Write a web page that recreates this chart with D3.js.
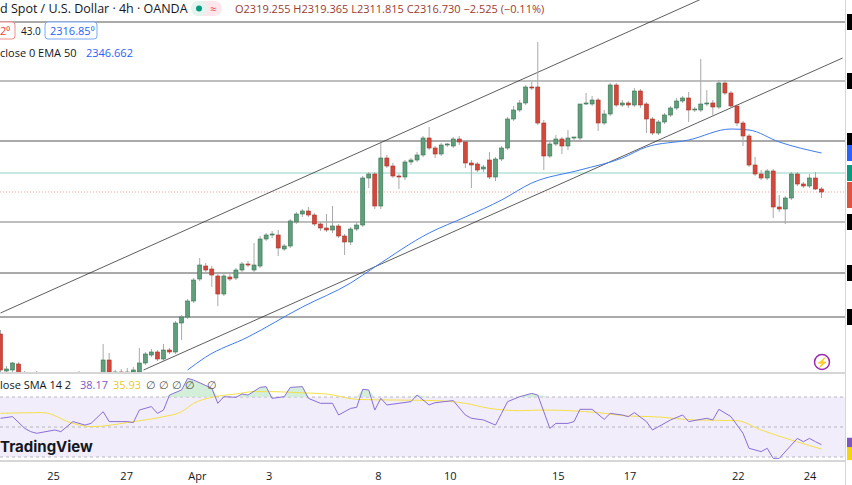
<!DOCTYPE html>
<html>
<head>
<meta charset="utf-8">
<script src="https://cdn.jsdelivr.net/npm/d3@7"></script>
<style>
  body { margin: 0; background: #fff; font-family: "Open Sans", "Noto Sans", sans-serif; }
  svg { display: block; }
</style>
</head>
<body>
<svg id="chart" width="852" height="485"></svg>
<script>
// 4h candles, oldest first
const opens = [2253,2234.5,2235,2238,2232,2230,2227.5,2231,2229,2225,2227,2230,2228,2226,2228.5,2231,2232,
  2231.5,2240,2233,2234,2233.5,2234,2234,2238.5,2242.5,2244,2240.5,2245,2244,2258.5,2261.5,2269.5,2280.5,2287,2285.5,2282,2273,2281.5,2281,2285,2288,2285,2287,2300.5,2302.5,2302.5,2295.5,2297,2309,2313,2314.5,2312.5,2308,2306,2305,2307,2302,2299,2305.5,2307.5,2331,2333,2317,2341,2337,2332,2331.5,2339,2340,2342.5,2351,
  2346,2343,2347.5,2347,2350.5,2349,2338.5,2338,2335.5,2340,2331.5,2340.5,2346,2360.5,2365,2368.5,2376.5,2376.5,2358.5,2342,2348,2350.5,2347,2351,2351,2368,2368,2370,2358.5,2363,2377.5,2367.5,2368.5,2367.5,2374.5,2368,2360.5,2353.5,2359,2362.5,2366,2369.5,2371,2365,2365,2368,2368.5,2366.5,2378.5,2373.5,2367,2358.5,2352,2337.5,2333,2331,2334.5,2316.5,2315.5,2321,2333,2328,2327,2331,2325.5];
const highs = [2255,2237,2239,2239,2234.5,2232.5,2234.5,2232,2230,2228.5,2231,2231,2229,2234.5,2232,2233,2233.5,
  2248,2243.5,2235,2235.5,2236,2236.5,2246,2244,2245.5,2245,2248,2246,2259.5,2262.5,2270.5,2281,2291,2288.5,2287,2284,2283.5,2283,2286,2289,2289.5,2298.5,2302,2303.5,2304.5,2305,2298,2310.5,2314,2315.5,2316.5,2313.5,2309,2313,2317,2308,2303,2306.5,2309,2332,2334,2334,2348.5,2342.5,2338.5,2333,2340,2341,2344,2352,2356.5,
  2347,2348.5,2348.5,2351.5,2352,2350,2340,2339,2337.5,2344,2341.5,2347,2361.5,2367,2370,2377.5,2379,2399,2360,2350,2352.5,2351.5,2355,2351.5,2368,2373.5,2372,2371,2365,2378.5,2378.5,2370,2369.5,2376,2375.5,2369,2361.5,2360,2363.5,2367,2371,2372,2374,2366.5,2390.5,2375,2370,2380,2380,2374.5,2368,2359.5,2353,2341.5,2335,2335.5,2335.5,2322.5,2322,2334,2334,2329,2333,2334,2326.5];
const lows = [2232,2233,2234,2230,2228,2226,2226.5,2227,2223,2224,2226,2225.5,2224,2225,2227.5,2229.5,2230,
  2230.5,2233,2231.5,2231.5,2232.5,2233,2233,2237.5,2241.5,2239.5,2239.5,2243,2243,2250,2260.5,2268.5,2279.5,2284,2276.5,2267,2272,2279.5,2280,2284,2286.5,2284,2286,2299.5,2301,2292,2294.5,2296,2308,2311.5,2311.5,2307,2304.5,2304,2303.5,2301,2292.5,2297.5,2304.5,2306.5,2326,2315.5,2315.5,2336,2331,2325.5,2330,2337.5,2339,2341.5,2345,
  2341,2342,2346.5,2346,2347.5,2336,2326,2334,2334,2330.5,2329.5,2339.5,2345,2359.5,2364,2367.5,2375,2357.5,2335,2341,2347,2343,2345,2350,2350,2367.5,2367,2354.5,2357.5,2362,2366.5,2366.5,2366,2366.5,2366,2353.5,2352.5,2352.5,2358,2361.5,2365,2368.5,2359,2364,2364,2367,2361.5,2365.5,2372.5,2366,2357,2347,2336.5,2332,2330,2330,2311,2314,2308,2320,2327,2326,2326,2325,2321];
const closes = [2235,2235.5,2238.5,2232,2230,2227.5,2231,2229,2225,2227,2230,2228,2226,2228.5,2231,2232,2231.5,
  2240,2234,2234,2233,2234,2235,2238.5,2243,2244,2240.5,2245,2244,2258.5,2261.5,2269.5,2280,2287.5,2285,2282.5,2273,2282,2280.5,2285,2288,2287.5,2287.5,2300.5,2302.5,2303,2296,2297,2309.5,2313,2314.5,2312.5,2308,2306,2305,2307,2302,2299,2305.5,2307.5,2331,2333,2317,2341,2337,2332,2331.5,2339,2340,2342.5,2351,2346,
  2343,2347.5,2348,2350.5,2349,2338.5,2337.5,2335,2336.5,2331.5,2340.5,2346,2360.5,2365,2368.5,2376.5,2376,2358.5,2342,2348,2350.5,2347,2351,2351.5,2368,2368.5,2370,2358.5,2363,2377.5,2367.5,2368.5,2367.5,2374.5,2367.5,2360.5,2353.5,2359,2362.5,2366,2369.5,2371,2365,2365.5,2368,2368.5,2366.5,2378.5,2373.5,2367,2358.5,2352,2337.5,2333,2331,2334.5,2316.5,2315.5,2321,2333,2328,2327,2331,2325.5,2324];

// EMA 50 read at selected candles
const emaIdx = [31,34,41,50,58,62,71,77,83,88,96,103,107,114,121,124,129,136];
const emaVal = [2235,2241.5,2251.5,2266.5,2278.5,2286.5,2303.5,2311.5,2320,2328.5,2335,2341,2346.5,2350,2355.5,2355,2349,2343.5];

// RSI 14 and its SMA, read at selected candles
const rsiIdx = [0,2,4,5,6,9,10,12,14,15,17,18,21,22,23,25,26,27,28,30,31,32,35,36,37,39,40,41,43,44,45,47,48,50,51,53,55,56,58,59,60,61,62,63,64,66,68,69,71,72,75,77,78,80,82,83,84,86,88,89,91,92,94,95,96,98,100,101,103,104,105,107,108,111,113,114,117,118,119,121,123,124,126,127,128,129,131,132,133,134,135,136];
const rsiVal = [55.8,56.9,49.1,46.9,45.8,48,46.9,53.6,51.3,52.4,60.2,53.6,53.6,52.9,61.3,63.6,59.1,61.3,71.3,74.7,82.4,81.3,75.8,65.8,70.2,69.8,72,71.3,76.4,76.9,69.1,70.2,76.4,76.9,69.1,65.8,65.8,58,62.4,63.1,75.1,74.7,61.3,69.1,64.7,65.8,66.9,71.3,64.7,66.2,67.6,58,55.8,54.7,51.3,59.1,66.9,70.2,72.4,71.3,49.1,52.4,52.4,53.6,61.8,61.8,55.1,59.1,58,56.9,59.6,53.6,48,54.7,58,53.6,55.8,54.7,61.8,56.9,45.8,35.8,33.6,35.8,29.1,29.1,38,42.4,40.2,42.4,40.2,38.2];
const smaIdx = [0,7,12,15,22,27,30,32,35,39,42,45,49,54,59,65,72,77,81,86,90,99,104,108,115,122,126,131,136];
const smaVal = [59.1,59.6,52.4,50.2,53.6,56.9,60.2,65.8,69.8,72,73.6,73.6,72.9,72,68.4,68,67.6,65.8,62.4,60.9,61.3,59.6,57.3,56.9,54.7,54.2,48,41.3,35.3];

// drawn levels and channel
const levels = [2409, 2379.5, 2349.5, 2309, 2283.5, 2261.5];
const thickLevels = [2379.5, 2309];
const upperChannel = [[0, 2263.5], [140, 2452.8]];
const lowerChannel = [[23.7, 2235], [139.5, 2391]];
const teal = 2333.5, lastPrice = 2324;

const tickIdx = [8.8, 20.9, 32.6, 44.5, 62.6, 74.5, 92.4, 104.3, 122.2, 134.1];
const tickLabels = ["25", "27", "Apr", "3", "8", "10", "15", "17", "22", "24"];

const svg = d3.select("#chart");
const W = 845, mainBottom = 372, rsiTop = 373, rsiBottom = 461;

const x = d3.scaleLinear().domain([0, 136]).range([0.5, 821.5]);
const y = d3.scaleLinear().domain([2420, 2234]).range([0, 372]);
const yr = d3.scaleLinear().domain([70, 30]).range([397, 457]);

svg.append("clipPath").attr("id", "mainClip").append("rect").attr("x", 0).attr("y", 0).attr("width", W).attr("height", mainBottom);
svg.append("clipPath").attr("id", "rsiClip").append("rect").attr("x", 0).attr("y", rsiTop).attr("width", W).attr("height", rsiBottom - rsiTop);

const main = svg.append("g").attr("clip-path", "url(#mainClip)");

// horizontal levels
main.selectAll("line.lvl").data(levels).join("line")
  .attr("x1", 0).attr("x2", W).attr("y1", d => y(d)).attr("y2", d => y(d))
  .attr("stroke", d => thickLevels.includes(d) ? "#a8a8a8" : "#555")
  .attr("stroke-width", d => thickLevels.includes(d) ? 1.6 : 1);
main.append("line").attr("x1", 0).attr("x2", W).attr("y1", y(teal)).attr("y2", y(teal)).attr("stroke", "#8fd3c4").attr("stroke-width", 1);
main.append("line").attr("x1", 0).attr("x2", W).attr("y1", y(lastPrice)).attr("y2", y(lastPrice))
  .attr("stroke", "#f2a49c").attr("stroke-dasharray", "1,2").attr("stroke-width", 1);

// channel
[upperChannel, lowerChannel].forEach(c => {
  main.append("line").attr("x1", x(c[0][0])).attr("y1", y(c[0][1])).attr("x2", x(c[1][0])).attr("y2", y(c[1][1]))
    .attr("stroke", "#333").attr("stroke-width", 0.8);
});

// EMA
main.append("path").datum(emaIdx.map((d, i) => [d, emaVal[i]]))
  .attr("fill", "none").attr("stroke", "#3f7cf2").attr("stroke-width", 1)
  .attr("d", d3.line().x(d => x(d[0])).y(d => y(d[1])).curve(d3.curveMonotoneX));

// candles
const candles = closes.map((c, i) => ({ i, o: opens[i], h: highs[i], l: lows[i], c }));
main.selectAll("line.wick").data(candles).join("line")
  .attr("x1", d => x(d.i)).attr("x2", d => x(d.i)).attr("y1", d => y(d.h)).attr("y2", d => y(d.l))
  .attr("stroke", "#a9a9a9").attr("stroke-width", 1);
main.selectAll("rect.body").data(candles).join("rect")
  .attr("x", d => x(d.i) - 2).attr("width", 4)
  .attr("y", d => y(Math.max(d.o, d.c)))
  .attr("height", d => Math.max(1, Math.abs(y(d.o) - y(d.c))))
  .attr("fill", d => d.c >= d.o ? "#5f9f7b" : "#d4483b")
  .attr("stroke", d => d.c >= d.o ? "#3b7453" : "#a7342a").attr("stroke-width", 0.6);

// header
const hdr = svg.append("g").attr("font-size", 12.5);
hdr.append("text").attr("x", 0).attr("y", 13).attr("fill", "#131722").text("d Spot / U.S. Dollar · 4h · OANDA");
hdr.append("rect").attr("x", 191).attr("y", 1).attr("width", 31).attr("height", 15).attr("rx", 7.5).attr("fill", "#fde7ec");
hdr.append("rect").attr("x", 191).attr("y", 1).attr("width", 16).attr("height", 15).attr("rx", 7.5).attr("fill", "#e3f4ef");
hdr.append("circle").attr("cx", 199).attr("cy", 8.5).attr("r", 3).attr("fill", "#089981");
hdr.append("text").attr("x", 210).attr("y", 13).attr("fill", "#f23645").attr("font-size", 11).text("≈");
hdr.append("text").attr("x", 235).attr("y", 13).attr("fill", "#9b3b30").attr("font-size", 11)
  .text("O2319.255 H2319.365 L2311.815 C2316.730 −2.525 (−0.11%)");
hdr.append("rect").attr("x", -4).attr("y", 22).attr("width", 19).attr("height", 17).attr("rx", 3).attr("fill", "#fff").attr("stroke", "#f28b8b");
hdr.append("text").attr("x", 0).attr("y", 35).attr("fill", "#f23645").attr("font-size", 11).text("2⁰");
hdr.append("text").attr("x", 21).attr("y", 35).attr("fill", "#131722").attr("font-size", 10).text("43.0");
hdr.append("rect").attr("x", 45).attr("y", 22).attr("width", 52).attr("height", 17).attr("rx", 3).attr("fill", "#fff").attr("stroke", "#7aa7f7");
hdr.append("text").attr("x", 50).attr("y", 35).attr("fill", "#2962ff").attr("font-size", 11).text("2316.85⁰");
hdr.append("text").attr("x", 0).attr("y", 57).attr("fill", "#131722").attr("font-size", 11).text("close 0 EMA 50");
hdr.append("text").attr("x", 86).attr("y", 57).attr("fill", "#2962ff").attr("font-size", 11).text("2346.662");

// lightning icon
svg.append("circle").attr("cx", 822).attr("cy", 362).attr("r", 7.5).attr("fill", "#fff").attr("stroke", "#9c27b0").attr("stroke-width", 1.5);
svg.append("text").attr("x", 822).attr("y", 366).attr("text-anchor", "middle").attr("font-size", 10).attr("fill", "#9c27b0").text("⚡");

// RSI pane
svg.append("line").attr("x1", 0).attr("x2", W).attr("y1", rsiTop).attr("y2", rsiTop).attr("stroke", "#d6d6d6").attr("stroke-width", 2);
const rsi = svg.append("g").attr("clip-path", "url(#rsiClip)");
rsi.append("rect").attr("x", 0).attr("y", yr(70)).attr("width", W).attr("height", yr(30) - yr(70)).attr("fill", "#f1edfa");
[70, 50, 30].forEach(v => rsi.append("line").attr("x1", 0).attr("x2", W).attr("y1", yr(v)).attr("y2", yr(v))
  .attr("stroke", "#a8a8b0").attr("stroke-dasharray", "3,3").attr("stroke-width", 0.8));
const rsiPts = rsiIdx.map((d, i) => [d, rsiVal[i]]);
rsi.append("path").datum(rsiPts).attr("fill", "#c8ebd0").attr("opacity", 0.8)
  .attr("d", d3.area().x(d => x(d[0])).y0(yr(70)).y1(d => yr(Math.max(70, d[1]))));
rsi.append("path").datum(smaIdx.map((d, i) => [d, smaVal[i]])).attr("fill", "none").attr("stroke", "#f5e04a").attr("stroke-width", 1)
  .attr("d", d3.line().x(d => x(d[0])).y(d => yr(d[1])).curve(d3.curveMonotoneX));
rsi.append("path").datum(rsiPts).attr("fill", "none").attr("stroke", "#8a6fd6").attr("stroke-width", 1)
  .attr("d", d3.line().x(d => x(d[0])).y(d => yr(d[1])));
const leg = svg.append("g").attr("font-size", 11);
leg.append("text").attr("x", 0).attr("y", 389).attr("fill", "#131722").text("lose SMA 14 2");
leg.append("text").attr("x", 80).attr("y", 389).attr("fill", "#7e57c2").text("38.17");
leg.append("text").attr("x", 113).attr("y", 389).attr("fill", "#e8c91e").text("35.93");
leg.append("text").attr("x", 146).attr("y", 389).attr("fill", "#555").text("∅ ∅ ∅ ∅");
leg.append("text").attr("x", 207).attr("y", 389).attr("fill", "#555").text("∅");
svg.append("text").attr("x", 0).attr("y", 452).attr("font-size", 15).attr("font-weight", "bold")
  .attr("font-family", "Inter, sans-serif").attr("fill", "#131722").text("TradingView");

// time axis
svg.append("line").attr("x1", 0).attr("x2", W).attr("y1", rsiBottom).attr("y2", rsiBottom).attr("stroke", "#d6d6d6").attr("stroke-width", 2);
svg.selectAll("text.tick").data(tickIdx).join("text")
  .attr("x", d => x(d)).attr("y", 480).attr("text-anchor", "middle").attr("font-size", 11).attr("fill", "#131722")
  .text((d, i) => tickLabels[i]);

// right price scale (cut off)
svg.append("line").attr("x1", W + 0.5).attr("x2", W + 0.5).attr("y1", 0).attr("y2", 485).attr("stroke", "#d6d6d6");
svg.selectAll("rect.lvlTag").data(levels).join("rect")
  .attr("x", W + 2).attr("y", d => y(d) - 8).attr("width", 10).attr("height", 16).attr("fill", "#000");
[[2343.5, "#2962ff"], [teal, "#089981"]].forEach(t => svg.append("rect").attr("x", W + 2).attr("y", y(t[0]) - 8)
  .attr("width", 10).attr("height", 16).attr("fill", t[1]));
svg.append("rect").attr("x", W + 2).attr("y", y(lastPrice) - 10).attr("width", 10).attr("height", 26).attr("fill", "#e0533f");
svg.append("rect").attr("x", W + 2).attr("y", yr(38.17) - 7).attr("width", 10).attr("height", 13).attr("fill", "#7e57c2");
svg.append("rect").attr("x", W + 2).attr("y", yr(35.93) - 1).attr("width", 10).attr("height", 13).attr("fill", "#f5d60a");
</script>
</body>
</html>
